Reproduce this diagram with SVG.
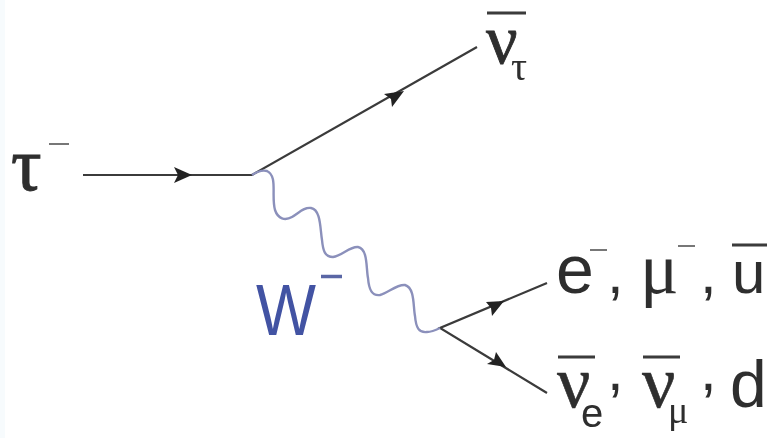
<svg xmlns="http://www.w3.org/2000/svg" width="770" height="438" viewBox="0 0 770 438">
<style>
.s{font-family:"Liberation Sans",Arial,sans-serif;fill:#2e2e2e}
.g{font-family:"Liberation Serif","Times New Roman",serif;fill:#2e2e2e}
.bar{stroke:#3a3a3a;stroke-width:3;fill:none}
.thin{stroke:#777;stroke-width:2;fill:none}
.ln{stroke:#3a3a3a;stroke-width:2.2;fill:none}
.wave{stroke:#8b90bb;stroke-width:2.4;fill:none}
.head{fill:#222}
</style>
<defs><filter id="b" x="-5%" y="-5%" width="110%" height="110%"><feGaussianBlur stdDeviation="0.7"/></filter></defs>
<rect width="770" height="438" fill="#fff"/>
<rect width="5" height="438" fill="#f7fbfd"/>
<g filter="url(#b)">
<g id="connectors">
<path class="ln" d="M83 175H252L477 47"/>
<path class="ln" d="M547 283L440 328L547 393"/>
<path class="wave" d="M252 175C258 171 263 170 267 171C278 176 271 196 275 210C278 219 285 221 292 217C299 213 304 207 311 208C321 210 320 228 322 240C323 251 325 257 333 257C342 256 350 246 358 247C368 249 366 268 368 278C369 290 372 296 380 295C388 293 397 284 405 285C415 288 413 306 415 316C416 328 419 333 427 332C432 332 436 330 440 328"/>
<path class="head" d="M192 175L174 167L178 175L174 183Z"/>
<path class="head" d="M404 91L384 94L391 99L392 107Z"/>
<path class="head" d="M504 301L486 302L491 308L492 316Z"/>
<path class="head" d="M506 367L496 352L494 360L487 364Z"/>
</g>
<g id="tau-in"><text class="g" x="11" y="190" font-size="76" stroke="#2e2e2e" stroke-width="1">τ</text><path class="thin" d="M49 144H69"/></g>
<g id="nu-tau"><path class="bar" d="M487 13H526"/><text class="g" x="486" y="63" font-size="70" stroke="#2e2e2e" stroke-width="0.8">ν</text><text class="g" x="511" y="80" font-size="40">τ</text></g>
<g id="w-boson"><text x="256" y="335" font-size="72" textLength="60" lengthAdjust="spacingAndGlyphs" style="font-family:'Liberation Sans',Arial,sans-serif;fill:#4353a3">W</text><path d="M321 276.500H342" stroke="#5a66a5" stroke-width="3.500" fill="none"/></g>
<g id="products-top"><text class="s" x="556" y="293" font-size="68">e</text><path class="thin" d="M590 250H607"/><text class="s" x="607" y="293" font-size="60">,</text><text class="g" x="640" y="293" font-size="72">μ</text><path class="thin" d="M678 246H695"/><text class="s" x="700" y="293" font-size="60">,</text><text class="s" x="732" y="293" font-size="60">u</text><path class="bar" d="M732 245H767"/></g>
<g id="products-bottom"><path class="bar" d="M558 357H595"/><text class="g" x="557" y="407" font-size="74" stroke="#2e2e2e" stroke-width="0.6">ν</text><text class="s" x="581" y="427" font-size="40">e</text><text class="s" x="607" y="390" font-size="60">,</text><path class="bar" d="M643 357H680"/><text class="g" x="642" y="407" font-size="74" stroke="#2e2e2e" stroke-width="0.6">ν</text><text class="g" x="668" y="423" font-size="38">μ</text><text class="s" x="700" y="390" font-size="60">,</text><text class="s" x="730" y="407" font-size="66">d</text></g>
</g>
</svg>
